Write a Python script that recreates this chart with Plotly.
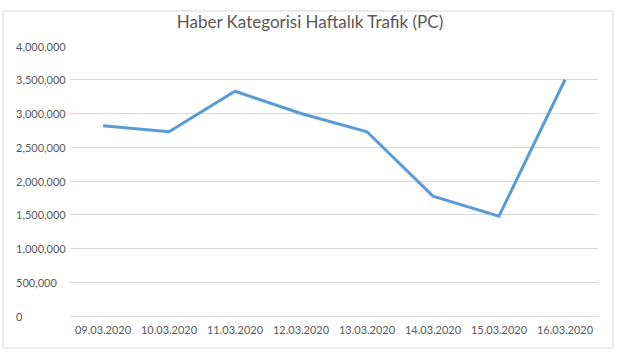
import plotly.graph_objects as go

dates = ["09.03.2020", "10.03.2020", "11.03.2020", "12.03.2020",
         "13.03.2020", "14.03.2020", "15.03.2020", "16.03.2020"]
traffic = [2820000, 2730000, 3330000, 3000000, 2730000, 1775000, 1480000, 3500000]
y_ticks = [0, 500000, 1000000, 1500000, 2000000, 2500000, 3000000, 3500000, 4000000]
y_tick_text = ["0", "500,000", "1,000,000", "1,500,000", "2,000,000",
               "2,500,000", "3,000,000", "3,500,000", "4,000,000"]
title = "Haber Kategorisi Haftalık Trafik (PC)"

W, H = 618, 352
L, R, T, B = 70, 20, 46, 36
pw, ph = W - L - R, H - T - B

fig = go.Figure()
fig.add_trace(go.Scatter(
    x=dates, y=traffic, mode="lines",
    line=dict(color="#5B9BD5", width=3),
    showlegend=False, hoverinfo="x+y",
))

def px_x(p):
    return (p - L) / pw

def px_y(p):
    return (H - B - p) / ph

annotations = [dict(text=t, x=px_x(14), xref="paper", y=v, yref="y",
                    xanchor="left", yanchor="middle", showarrow=False,
                    font=dict(size=11, color="#595959"))
               for v, t in zip(y_ticks, y_tick_text)]

fig.update_layout(
    width=W, height=H,
    margin=dict(l=L, r=R, t=T, b=B),
    paper_bgcolor="white", plot_bgcolor="white",
    font=dict(family="Lato, Carlito, sans-serif", color="#595959", size=11),
    title=dict(text=title, x=310 / W, xanchor="center", xref="container",
               y=1 - 22 / H, yanchor="middle", yref="container",
               font=dict(size=17, color="#595959")),
    xaxis=dict(type="category", showgrid=False, showline=False, ticks="",
               tickfont=dict(size=11, color="#595959"), fixedrange=True,
               ticklabelstandoff=6,
               range=[-0.5, len(dates) - 0.5]),
    yaxis=dict(range=[0, 4000000], tickvals=y_ticks, showticklabels=False,
               showgrid=True, gridcolor="#D9D9D9", gridwidth=1,
               zeroline=True, zerolinecolor="#D9D9D9", zerolinewidth=1,
               showline=False, ticks="", fixedrange=True),
    annotations=annotations,
    shapes=[dict(type="rect", xref="paper", yref="paper",
                 x0=px_x(3), x1=px_x(613), y0=px_y(348), y1=px_y(11),
                 line=dict(color="#D9D9D9", width=1), fillcolor="rgba(0,0,0,0)",
                 layer="below")],
)

fig.write_html("out.html")
